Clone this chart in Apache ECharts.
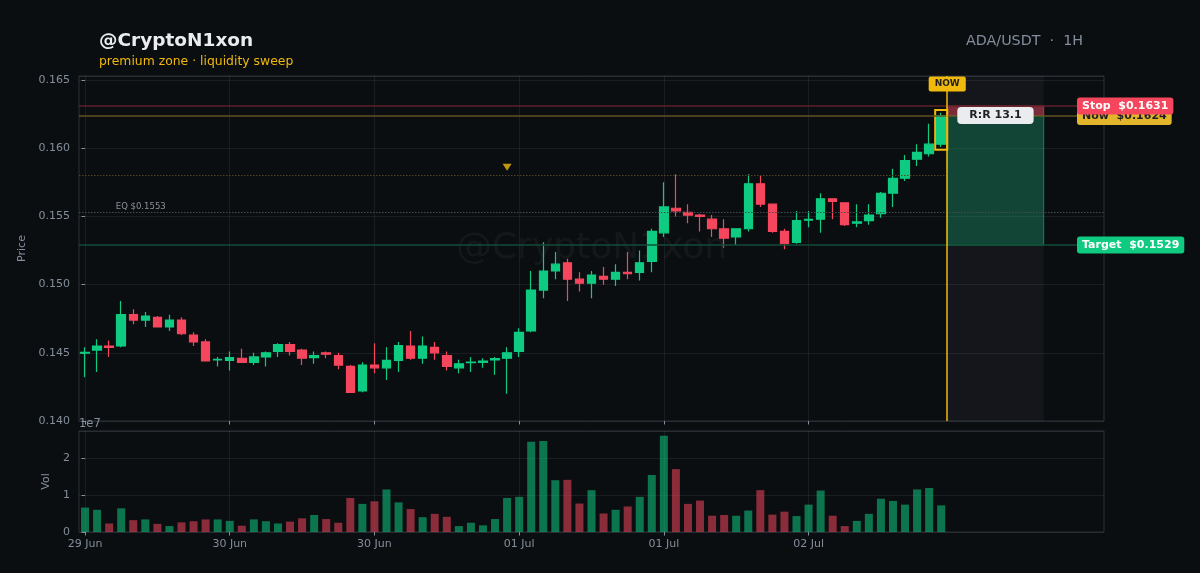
<!DOCTYPE html>
<html><head><meta charset="utf-8">
<script src="https://cdn.jsdelivr.net/npm/echarts@6/dist/echarts.min.js"></script>
<style>html,body{margin:0;padding:0;background:#0b0e11;}#c{width:1200px;height:573px;}</style>
</head><body><div id="c"></div>
<script>
// ---- data (1H candles, ADA/USDT) ----
const opens  = [0.14498,0.1452,0.1455,0.1455,0.1478,0.1474,0.1476,0.1469,0.1474,0.1463,
                0.1458,0.14448,0.14445,0.1446,0.1443,0.1447,0.1451,0.1456,0.1452,0.14465,
                0.1450,0.1448,0.1440,0.1422,0.1441,0.1439,0.14445,0.1455,0.1446,0.1454,
                0.1448,0.1439,0.14428,0.1443,0.14448,0.1446,0.1451,0.1466,0.1496,0.1510,
                0.1516,0.1504,0.1501,0.1506,0.1504,0.1509,0.1509,0.1517,0.1538,0.1556,
                0.1553,0.1551,0.1548,0.1541,0.1535,0.1541,0.1574,0.1559,0.1539,0.1531,
                0.15472,0.1548,0.1563,0.1560,0.1545,0.1547,0.1552,0.1567,0.1578,0.1592,
                0.1596,0.1603];
const closes = [0.14504,0.1455,0.1454,0.1478,0.1474,0.1477,0.1469,0.1474,0.1464,0.1458,
                0.1444,0.14452,0.14465,0.1443,0.1447,0.1450,0.1456,0.1451,0.1446,0.1448,
                0.1449,0.1441,0.1421,0.1441,0.1439,0.14445,0.14553,0.1446,0.1455,0.1450,
                0.1440,0.1442,0.14432,0.1444,0.14458,0.1450,0.1465,0.1496,0.1510,0.1515,
                0.1504,0.1501,0.1507,0.1504,0.1509,0.1508,0.1516,0.1539,0.1557,0.1554,
                0.1551,0.1550,0.1541,0.1534,0.1541,0.1574,0.1559,0.1539,0.1530,0.1547,
                0.15478,0.1563,0.1561,0.1544,0.1546,0.1551,0.1567,0.1578,0.1591,0.1597,
                0.1603,0.1624];
const lows   = [0.1432,0.1436,0.1447,0.1454,0.1471,0.1469,0.1469,0.1466,0.1463,0.1455,
                0.1444,0.1440,0.1437,0.1443,0.1441,0.1440,0.1447,0.1448,0.1441,0.1442,
                0.1446,0.1438,0.1421,0.1421,0.1435,0.1430,0.1436,0.1445,0.1442,0.1445,
                0.1437,0.1435,0.1436,0.1439,0.1434,0.1420,0.1447,0.1465,0.1490,0.1504,
                0.1488,0.1495,0.1490,0.1500,0.1499,0.1504,0.1503,0.1509,0.1535,0.1550,
                0.1545,0.1539,0.1535,0.1527,0.1529,0.1539,0.1557,0.1538,0.1526,0.1530,
                0.1542,0.1538,0.1548,0.1543,0.1542,0.1544,0.1549,0.1557,0.1576,0.1587,
                0.1594,0.1601];
const highs  = [0.1454,0.1460,0.1459,0.1488,0.1482,0.1480,0.1477,0.1478,0.1476,0.1465,
                0.1460,0.1447,0.1451,0.1453,0.1450,0.1451,0.1457,0.1458,0.1453,0.1451,
                0.1451,0.1450,0.1441,0.1443,0.1457,0.1454,0.1458,0.1466,0.1462,0.1458,
                0.1451,0.1445,0.1447,0.1446,0.1447,0.1454,0.1468,0.1510,0.1531,0.1524,
                0.1519,0.1509,0.1510,0.1513,0.1515,0.1524,0.1525,0.1541,0.1575,0.1581,
                0.1559,0.1552,0.1551,0.1548,0.1541,0.1581,0.1580,0.1559,0.1541,0.1554,
                0.1554,0.1567,0.1563,0.1560,0.1559,0.1559,0.1568,0.1585,0.1595,0.1603,
                0.1618,0.1626];
const volumes = [6.6e6,6.0e6,2.3e6,6.4e6,3.2e6,3.4e6,2.2e6,1.6e6,2.6e6,2.9e6,
                 3.4e6,3.4e6,3.0e6,1.7e6,3.4e6,2.9e6,2.3e6,2.8e6,3.7e6,4.6e6,
                 3.5e6,2.5e6,9.2e6,7.6e6,8.3e6,11.5e6,8.0e6,6.2e6,4.0e6,4.9e6,
                 4.1e6,1.6e6,2.5e6,1.8e6,3.5e6,9.2e6,9.5e6,24.4e6,24.6e6,14.0e6,
                 14.1e6,7.7e6,11.3e6,5.0e6,6.0e6,6.9e6,9.5e6,15.4e6,26.0e6,17.0e6,
                 7.6e6,8.5e6,4.4e6,4.6e6,4.4e6,5.8e6,11.3e6,4.7e6,5.5e6,4.3e6,
                 7.4e6,11.2e6,4.4e6,1.6e6,3.0e6,4.9e6,9.0e6,8.4e6,7.4e6,11.5e6,
                 11.9e6,7.2e6];
const tickIndex  = [0, 12, 24, 36, 48, 60];
const tickLabels = ['29 Jun','30 Jun','30 Jun','01 Jul','01 Jul','02 Jul'];
const futureBars = 13;          // empty hourly slots to the right
const projectionBars = 8;       // width of the trade box
const stopPrice = 0.1631;
const nowPrice = 0.1624;
const targetPrice = 0.1529;
const eqPrice = 0.1553;
const premiumPrice = 0.1580;
const sweepIndex = 35;
const sweepMarkPrice = 0.1586;
const nowBoxLow = 0.1599, nowBoxHigh = 0.1628;
const rrText = 'R:R 13.1';

// ---- build ----
const UP = '#0ecb81', DOWN = '#f6465d', YEL = '#f0b90b', GREY = '#848e9c';
const FONT = 'DejaVu Sans';
const n = closes.length;
const lastIdx = n - 1;
const xMin = -0.5, xMax = n + futureBars - 0.5;
const candleData = closes.map((c, i) => [i, opens[i], c, lows[i], highs[i]]);
const volData = volumes.map((v, i) => ({
  value: [i, v],
  itemStyle: { color: closes[i] >= opens[i] ? 'rgba(14,203,129,0.55)' : 'rgba(246,70,93,0.55)' }
}));
const hLine = (price, x0, x1, style) => [
  { coord: [x0, price], lineStyle: style }, { coord: [x1, price], lineStyle: style }
];

const gridLine = { show: true, lineStyle: { color: 'rgba(132,142,156,0.13)', width: 1 } };
const tickStyle = { show: true, inside: false, length: 3.5, lineStyle: { color: GREY, width: 1 } };

const chart = echarts.init(document.getElementById('c'), null, { renderer: 'canvas' });
const option = {
  animation: false,
  backgroundColor: '#0b0e11',
  textStyle: { fontFamily: FONT },
  grid: [
    { left: 79, right: 96, top: 76, height: 345, show: true, borderColor: '#2b3139', borderWidth: 1, backgroundColor: 'transparent' },
    { left: 79, right: 96, top: 431, height: 101, show: true, borderColor: '#2b3139', borderWidth: 1, backgroundColor: 'transparent' }
  ],
  xAxis: [
    { type: 'value', gridIndex: 0, min: xMin, max: xMax,
      axisLine: { show: false },
      axisTick: Object.assign({ customValues: tickIndex }, tickStyle),
      axisLabel: { show: false, customValues: tickIndex },
      splitLine: gridLine },
    { type: 'value', gridIndex: 1, min: xMin, max: xMax,
      axisLine: { show: false },
      axisTick: Object.assign({ customValues: tickIndex }, tickStyle),
      axisLabel: { customValues: tickIndex, color: GREY, fontSize: 11, fontFamily: FONT, margin: 7,
        formatter: v => tickLabels[tickIndex.indexOf(Math.round(v))] || '' },
      splitLine: gridLine }
  ],
  yAxis: [
    { type: 'value', gridIndex: 0, min: 0.140, max: 0.1653, interval: 0.005,
      name: 'Price', nameLocation: 'middle', nameGap: 45,
      nameTextStyle: { color: GREY, fontSize: 11, fontFamily: FONT },
      axisLine: { show: false }, axisTick: tickStyle,
      axisLabel: { color: GREY, fontSize: 11, fontFamily: FONT, margin: 9, showMaxLabel: false,
        formatter: v => v.toFixed(3) },
      splitLine: gridLine },
    { type: 'value', gridIndex: 1, min: 0, max: 2.73e7, interval: 1e7,
      name: 'Vol', nameLocation: 'middle', nameGap: 23,
      nameTextStyle: { color: GREY, fontSize: 11, fontFamily: FONT },
      axisLine: { show: false }, axisTick: tickStyle,
      axisLabel: { color: GREY, fontSize: 11, fontFamily: FONT, margin: 9, showMaxLabel: false,
        formatter: v => String(Math.round(v / 1e7)) },
      splitLine: gridLine }
  ],
  series: [
    {
      type: 'candlestick', xAxisIndex: 0, yAxisIndex: 0,
      dimensions: ['idx', 'open', 'close', 'lowest', 'highest'],
      encode: { x: 0, y: [1, 2, 3, 4] },
      data: candleData,
      barWidth: 9,
      silent: true,
      itemStyle: { color: UP, color0: DOWN, borderColor: UP, borderColor0: DOWN, borderWidth: 1.2 },
      markArea: {
        silent: true,
        data: [
          [{ xAxis: lastIdx + 0.5, itemStyle: { color: 'rgba(130,140,175,0.075)' } }, { xAxis: lastIdx + 0.5 + projectionBars }],
          [{ xAxis: lastIdx + 0.5, yAxis: targetPrice, itemStyle: { color: 'rgba(14,203,129,0.26)', borderColor: 'rgba(14,203,129,0.55)', borderWidth: 1 } },
           { xAxis: lastIdx + 0.5 + projectionBars, yAxis: nowPrice }],
          [{ xAxis: lastIdx + 0.5, yAxis: nowPrice, itemStyle: { color: 'rgba(246,70,93,0.45)', borderColor: 'rgba(246,70,93,0.6)', borderWidth: 1 } },
           { xAxis: lastIdx + 0.5 + projectionBars, yAxis: stopPrice }],
          [{ xAxis: lastIdx - 0.5, yAxis: nowBoxLow, itemStyle: { color: 'rgba(0,0,0,0)', borderColor: YEL, borderWidth: 2 } },
           { xAxis: lastIdx + 0.5, yAxis: nowBoxHigh }]
        ]
      },
      markLine: {
        silent: true, symbol: 'none', label: { show: false }, precision: 6,
        data: [
          hLine(stopPrice, xMin, xMax, { color: '#5c2029', width: 1.5, type: 'solid' }),
          hLine(nowPrice, xMin, xMax, { color: '#615320', width: 1.5, type: 'solid' }),
          hLine(targetPrice, xMin, xMax, { color: '#134c38', width: 1.5, type: 'solid' }),
          hLine(eqPrice, xMin, xMax, { color: '#464c55', width: 1.2, type: [1.5, 1.5] }),
          hLine(premiumPrice, xMin, lastIdx + 0.5, { color: '#504522', width: 1.2, type: [1.5, 1.5] }),
          { xAxis: lastIdx + 0.5, lineStyle: { color: YEL, width: 1.5, type: 'solid' } }
        ]
      }
    },
    {
      type: 'scatter', xAxisIndex: 0, yAxisIndex: 0, silent: true,
      symbol: 'triangle', symbolRotate: 180, symbolSize: [9, 7],
      itemStyle: { color: YEL },
      data: [[sweepIndex, sweepMarkPrice]]
    },
    {
      type: 'bar', xAxisIndex: 1, yAxisIndex: 1, silent: true,
      barWidth: 8, data: volData
    }
  ]
};
chart.setOption(option);

// ---- annotations positioned through the chart's own scales ----
const px = (x, y) => chart.convertToPixel({ gridIndex: 0 }, [x, y]);
const gx0 = 79, gx1 = 1200 - 96, gy0 = 76, gy1 = 421;
const nowX = px(lastIdx + 0.5, nowPrice);
const rrPos = px(lastIdx + 0.5 + projectionBars / 2, nowPrice);
const eqPos = px(2.55, eqPrice);
const stopY = px(0, stopPrice)[1], targetY = px(0, targetPrice)[1];
const tagX = gx1 - 27;
const tag = (text, y, bg, fg) => ({
  type: 'text', z: 120, silent: true,
  style: { text, x: tagX, y, align: 'left', verticalAlign: 'middle',
    font: 'bold 11px "DejaVu Sans"', fill: fg, backgroundColor: bg,
    padding: [3, 5, 3, 5], borderRadius: 3 }
});
chart.setOption({
  graphic: [
    { type: 'text', z: 1, silent: true,
      style: { text: '@CryptoN1xon', x: (gx0 + gx1) / 2, y: (gy0 + gy1) / 2, align: 'center', verticalAlign: 'middle',
        font: '36px "DejaVu Sans"', fill: 'rgba(255,255,255,0.045)' } },
    { type: 'text', silent: true,
      style: { text: '@CryptoN1xon', x: 99, y: 41, verticalAlign: 'middle', font: 'bold 18.5px "DejaVu Sans"', fill: '#eaecef' } },
    { type: 'text', silent: true,
      style: { text: 'premium zone · liquidity sweep', x: 99, y: 62, verticalAlign: 'middle', font: '12.4px "DejaVu Sans"', fill: YEL } },
    { type: 'text', silent: true,
      style: { text: 'ADA/USDT  ·  1H', x: 1083, y: 41, align: 'right', verticalAlign: 'middle', font: '14.3px "DejaVu Sans"', fill: GREY } },
    { type: 'text', silent: true,
      style: { text: '1e7', x: 79, y: 424, verticalAlign: 'middle', font: '11.5px "DejaVu Sans"', fill: GREY } },
    { type: 'text', silent: true,
      style: { text: 'EQ $0.1553', x: eqPos[0], y: eqPos[1] - 5.5, verticalAlign: 'middle', font: '8.5px "DejaVu Sans"', fill: 'rgba(160,166,176,0.85)' } },
    { type: 'text', z: 120, silent: true,
      style: { text: 'NOW', x: nowX[0], y: gy0 + 8, align: 'center', verticalAlign: 'middle',
        font: 'bold 9px "DejaVu Sans"', fill: '#1e2026', backgroundColor: YEL, padding: [3, 6, 3, 6], borderRadius: 2 } },
    { type: 'text', z: 120, silent: true,
      style: { text: rrText, x: rrPos[0], y: rrPos[1], align: 'center', verticalAlign: 'middle',
        font: 'bold 11px "DejaVu Sans"', fill: '#1e2026', backgroundColor: '#eaecef', padding: [3, 12, 3, 12], borderRadius: 4 } },
    tag('Now  $' + nowPrice.toFixed(4), px(0, nowPrice)[1] + 1, '#e2b52a', '#1e2026'),
    tag('Stop  $' + stopPrice.toFixed(4), stopY, '#f6465d', '#ffffff'),
    tag('Target  $' + targetPrice.toFixed(4), targetY, '#0ecb81', '#ffffff')
  ]
});
</script>
</body></html>
